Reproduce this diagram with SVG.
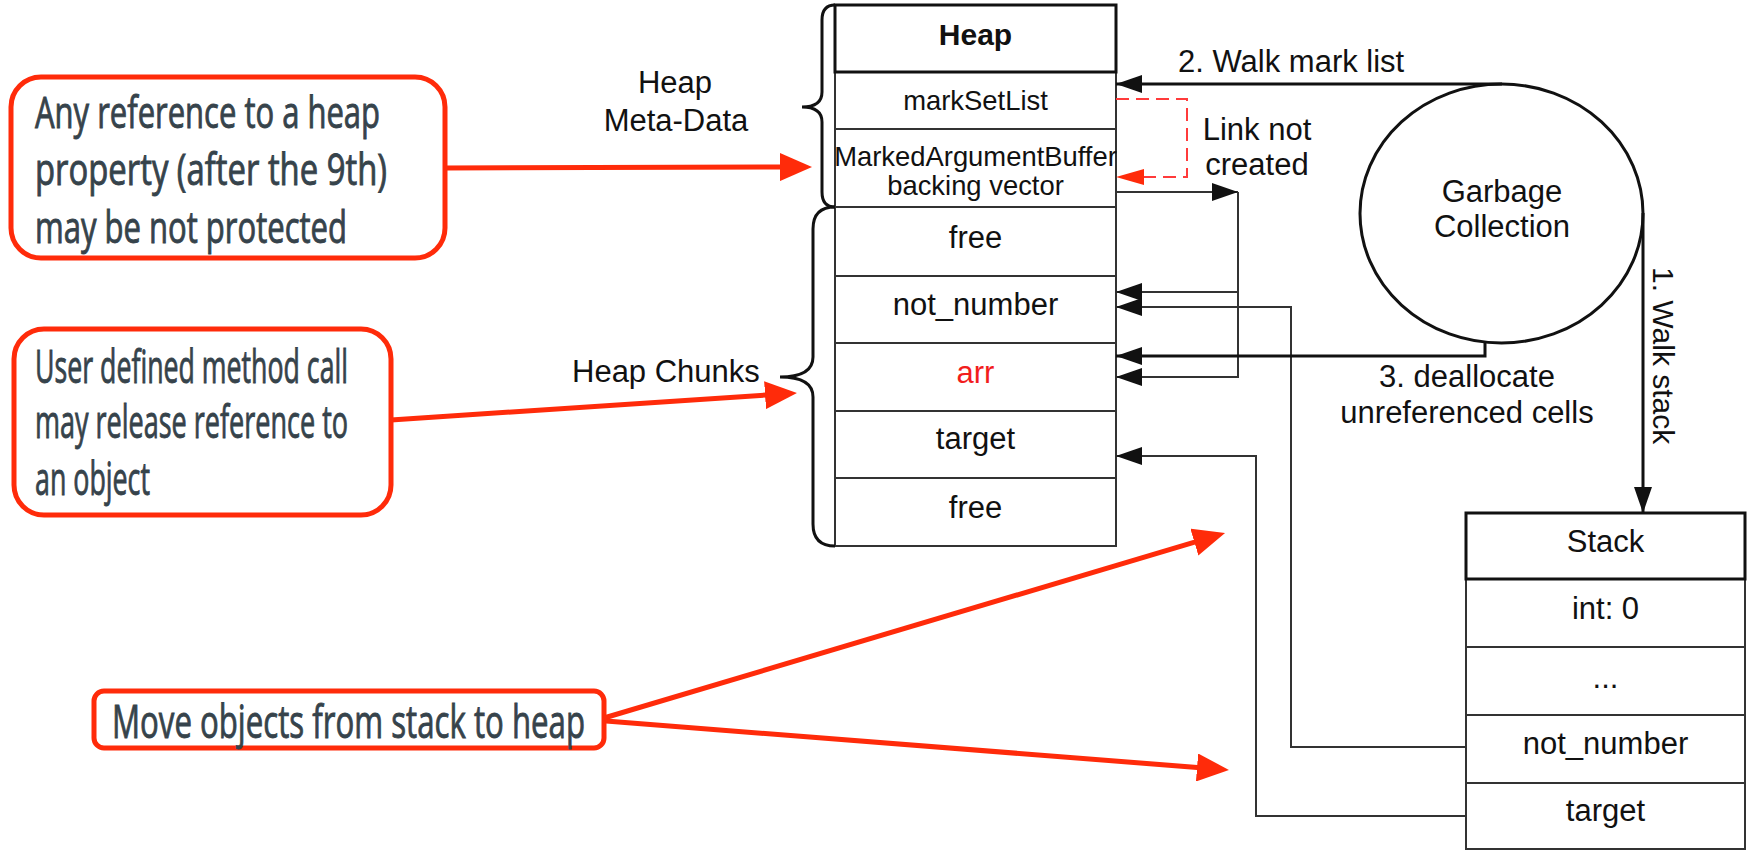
<svg xmlns="http://www.w3.org/2000/svg" width="1756" height="851" viewBox="0 0 1756 851">
<style>
.t{font-family:"Liberation Sans",Arial,sans-serif;fill:#111;font-size:31px}
.s27{font-size:27.4px}
.s30{font-size:30px}
.tc{text-anchor:middle}
.cell{fill:#fff;stroke:#333;stroke-width:2}
.hdr{fill:#fff;stroke:#111;stroke-width:3}
.sep{stroke:#333;stroke-width:2}
.ann{font-family:"Open Sans","Noto Sans",sans-serif;fill:#36434b;stroke:#36434b;stroke-width:0.9px}
.box{fill:#fff;stroke:#ff2b0a;stroke-width:5}
.redln{stroke:#ff2b0a;stroke-width:5;fill:none}
.con{fill:none;stroke:#333;stroke-width:2}
.conb{fill:none;stroke:#111;stroke-width:3}
.brace{fill:none;stroke:#111;stroke-width:3}
</style>
<defs>
<marker id="ab" viewBox="0 0 26 18" refX="26" refY="9" markerWidth="26" markerHeight="18" markerUnits="userSpaceOnUse" orient="auto"><path d="M0,0 L26,9 L0,18 z" fill="#111"/></marker>
<marker id="ar" viewBox="0 0 28 16" refX="28" refY="8" markerWidth="28" markerHeight="16" markerUnits="userSpaceOnUse" orient="auto"><path d="M0,0 L28,8 L0,16 z" fill="#ff2b0a"/></marker>
<marker id="abig" viewBox="0 0 32 28" refX="16" refY="14" markerWidth="32" markerHeight="28" markerUnits="userSpaceOnUse" orient="auto"><path d="M0,0 L32,14 L0,28 z" fill="#ff2b0a"/></marker>
</defs>
<rect width="1756" height="851" fill="#fff"/>

<g id="heap">
<rect class="cell" x="835" y="5" width="281" height="541"/>
<line class="sep" x1="835" y1="129" x2="1116" y2="129"/>
<line class="sep" x1="835" y1="207" x2="1116" y2="207"/>
<line class="sep" x1="835" y1="276" x2="1116" y2="276"/>
<line class="sep" x1="835" y1="343" x2="1116" y2="343"/>
<line class="sep" x1="835" y1="411" x2="1116" y2="411"/>
<line class="sep" x1="835" y1="478" x2="1116" y2="478"/>
<rect class="hdr" x="835" y="5" width="281" height="67"/>
<text class="t tc s30" x="975.5" y="45" font-weight="bold">Heap</text>
<text class="t tc s27" x="975.5" y="110">markSetList</text>
<text class="t tc s27" x="975.5" y="166">MarkedArgumentBuffer</text>
<text class="t tc s27" x="975.5" y="195">backing vector</text>
<text class="t tc" x="975.5" y="248">free</text>
<text class="t tc" x="975.5" y="315">not_number</text>
<text class="t tc" x="975.5" y="383" style="fill:#f21d1d">arr</text>
<text class="t tc" x="975.5" y="449">target</text>
<text class="t tc" x="975.5" y="518">free</text>
</g>

<g id="brace-meta">
<path class="brace" d="M835,5 Q822,5 822,20 V92 Q822,107 802,107 Q822,107 822,122 V192 Q822,207 835,207"/>
<text class="t tc" x="675" y="93">Heap</text>
<text class="t tc" x="676" y="131">Meta-Data</text>
</g>

<g id="brace-chunks">
<path class="brace" d="M835,207 Q813,207 813,229 V357 Q813,377 780,377 Q813,377 813,397 V524 Q813,546 835,546"/>
<text class="t" x="572" y="382">Heap Chunks</text>
</g>

<g id="gc">
<ellipse cx="1501.5" cy="213.5" rx="141.5" ry="129.5" fill="#fff" stroke="#111" stroke-width="3"/>
<text class="t tc" x="1502" y="202">Garbage</text>
<text class="t tc" x="1502" y="237">Collection</text>
</g>

<g id="stack">
<rect class="cell" x="1466" y="513" width="279" height="336"/>
<line class="sep" x1="1466" y1="647" x2="1745" y2="647"/>
<line class="sep" x1="1466" y1="715" x2="1745" y2="715"/>
<line class="sep" x1="1466" y1="783" x2="1745" y2="783"/>
<rect class="hdr" x="1466" y="513" width="279" height="66"/>
<text class="t tc" x="1605.5" y="552">Stack</text>
<text class="t tc" x="1605.5" y="619">int: 0</text>
<text class="t tc" x="1605.5" y="688">...</text>
<text class="t tc" x="1605.5" y="754">not_number</text>
<text class="t tc" x="1605.5" y="821">target</text>
</g>

<g id="note-heap-property">
<rect class="box" x="11" y="77" width="434" height="181" rx="30"/>
<text class="ann" font-size="43" x="35" y="128" textLength="345" lengthAdjust="spacingAndGlyphs">Any reference to a heap</text>
<text class="ann" font-size="43" x="35" y="185" textLength="352" lengthAdjust="spacingAndGlyphs">property (after the 9th)</text>
<text class="ann" font-size="43" x="35" y="243" textLength="312" lengthAdjust="spacingAndGlyphs">may be not protected</text>
</g>

<g id="note-user-method">
<rect class="box" x="14" y="329" width="377" height="186" rx="30"/>
<text class="ann" font-size="45" x="35" y="383" textLength="313" lengthAdjust="spacingAndGlyphs">User defined method call</text>
<text class="ann" font-size="45" x="35" y="438" textLength="313" lengthAdjust="spacingAndGlyphs">may release reference to</text>
<text class="ann" font-size="45" x="35" y="495" textLength="115" lengthAdjust="spacingAndGlyphs">an object</text>
</g>

<g id="note-move-objects">
<rect class="box" x="94" y="691" width="510" height="57" rx="10"/>
<text class="ann" font-size="46" x="112" y="738" textLength="473" lengthAdjust="spacingAndGlyphs">Move objects from stack to heap</text>
</g>

<g id="connectors">
<path class="conb" d="M1502,84 H1116" marker-end="url(#ab)"/>
<text class="t" x="1178" y="72">2. Walk mark list</text>
<path d="M1116,99 H1187 V177 H1116" fill="none" stroke="#ff3b3b" stroke-width="2" stroke-dasharray="13 7" marker-end="url(#ar)"/>
<text class="t tc" x="1257" y="140">Link not</text>
<text class="t tc" x="1257" y="175">created</text>
<path class="con" d="M1116,192 H1238" marker-end="url(#ab)"/>
<path class="con" d="M1238,192 V377 H1116" marker-end="url(#ab)"/>
<path class="con" d="M1238,292 H1116" marker-end="url(#ab)"/>
<path class="con" d="M1466,747 H1291 V307 H1116" marker-end="url(#ab)"/>
<path class="con" d="M1466,816 H1256 V456 H1116" marker-end="url(#ab)"/>
<path class="conb" d="M1485,343 V356 H1116" marker-end="url(#ab)"/>
<text class="t tc" x="1467" y="387">3. deallocate</text>
<text class="t tc" x="1467" y="423">unreferenced cells</text>
<path class="conb" d="M1643,213 V513" marker-end="url(#ab)"/>
<text class="t s30" transform="translate(1653,267) rotate(90)">1. Walk stack</text>
<path class="redln" d="M445,168 L796,167" marker-end="url(#abig)"/>
<path class="redln" d="M391,420 L781,394.1" marker-end="url(#abig)"/>
<path class="redln" d="M604,718 L1209.7,537.6" marker-end="url(#abig)"/>
<path class="redln" d="M606,721 L1213,768.7" marker-end="url(#abig)"/>
</g>
</svg>
